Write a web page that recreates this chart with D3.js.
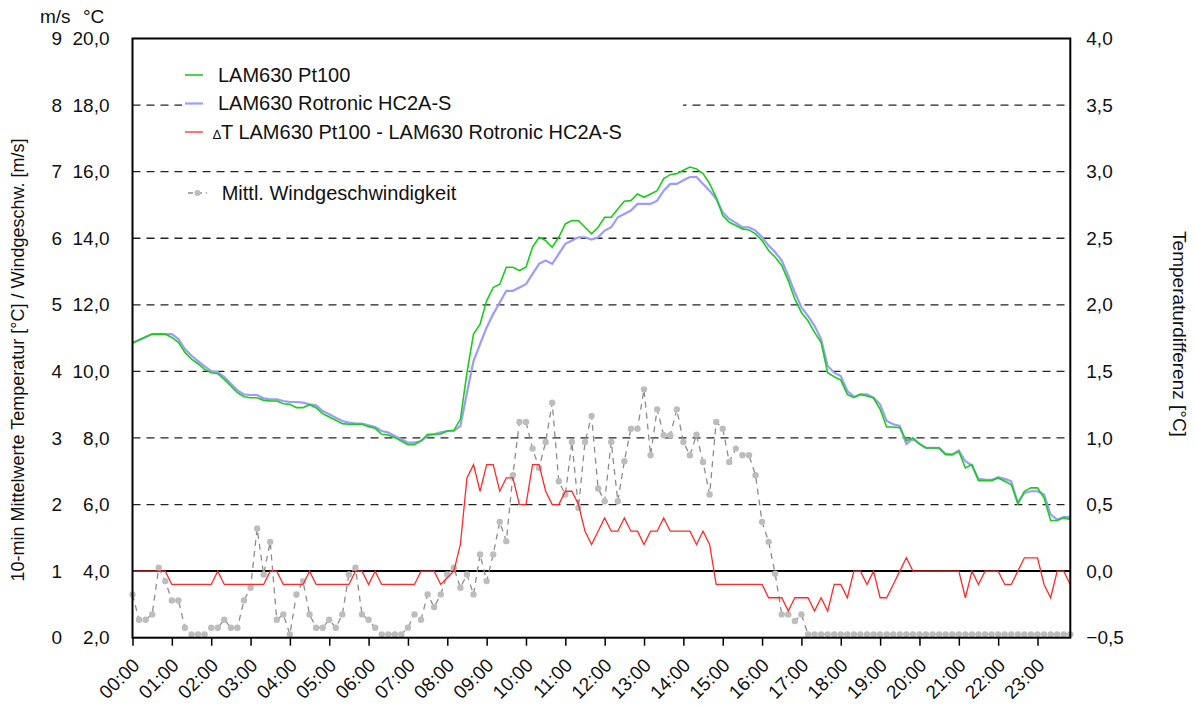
<!DOCTYPE html>
<html><head><meta charset="utf-8">
<script src="https://cdn.jsdelivr.net/npm/d3@7"></script>
<style>
body{margin:0;background:#fff}
text{font-family:"Liberation Sans",Arial,Helvetica,sans-serif;fill:#111}
</style>
</head><body>
<svg id="chart" width="1196" height="706"></svg>
<script>
// ---- data (10-min means, 00:00 .. 23:50) ----
const tempPt100 = [
10.85,10.94,11.03,11.12,11.12,11.12,11.02,10.87,10.57,10.37,10.23,10.06,9.96,9.93,9.76,9.56,9.36,9.24,9.21,9.21,
9.13,9.11,9.11,9.03,9.01,8.91,8.91,9.00,8.91,8.73,8.63,8.53,8.43,8.41,8.41,8.41,8.34,8.29,8.11,8.09,
8.01,7.91,7.80,7.80,7.91,8.11,8.11,8.12,8.21,8.23,8.56,9.96,11.12,11.42,12.12,12.52,12.62,13.13,13.13,13.03,
13.13,13.73,14.03,13.93,13.73,14.03,14.43,14.53,14.53,14.33,14.13,14.33,14.63,14.63,14.88,15.11,15.13,15.33,15.23,15.33,
15.43,15.79,15.91,15.94,16.04,16.14,16.08,15.94,15.64,15.23,14.68,14.48,14.38,14.28,14.25,14.13,13.93,13.63,13.43,13.18,
12.72,12.17,11.77,11.52,11.17,10.87,9.96,9.84,9.74,9.31,9.21,9.31,9.26,9.20,8.86,8.33,8.33,8.31,7.92,8.00,
7.82,7.70,7.70,7.70,7.50,7.50,7.60,7.10,7.20,6.72,6.72,6.72,6.80,6.70,6.60,6.03,6.40,6.50,6.50,6.20,
5.52,5.52,5.60,5.55];
const tempRotronic = [
10.85,10.94,11.03,11.12,11.12,11.12,11.12,10.97,10.67,10.47,10.31,10.15,10.01,9.98,9.83,9.63,9.43,9.31,9.29,9.29,
9.19,9.16,9.16,9.11,9.08,9.08,9.06,9.01,8.98,8.81,8.71,8.61,8.51,8.46,8.43,8.43,8.38,8.33,8.21,8.16,
8.06,7.96,7.86,7.86,7.91,8.06,8.11,8.17,8.21,8.21,8.36,9.36,10.31,10.82,11.32,11.72,12.07,12.42,12.42,12.52,
12.62,12.93,13.23,13.33,13.23,13.53,13.83,13.93,14.03,14.03,13.96,14.03,14.23,14.33,14.63,14.73,14.83,15.03,15.03,15.03,
15.13,15.43,15.63,15.63,15.74,15.84,15.84,15.63,15.43,15.18,14.78,14.58,14.46,14.33,14.33,14.23,14.03,13.78,13.58,13.33,
12.87,12.37,11.92,11.67,11.37,10.97,10.16,9.96,9.86,9.41,9.24,9.31,9.31,9.21,9.01,8.51,8.41,8.36,7.82,7.97,
7.82,7.70,7.70,7.70,7.52,7.50,7.62,7.30,7.17,6.77,6.75,6.74,6.82,6.77,6.70,6.05,6.35,6.40,6.40,6.30,
5.70,5.55,5.62,5.62];
const deltaT = [
0,0,0,0,0,0,-0.1,-0.1,-0.1,-0.1,-0.1,-0.1,-0.1,0,-0.1,-0.1,-0.1,-0.1,-0.1,-0.1,
-0.1,0,0,-0.1,-0.1,-0.1,-0.1,0,-0.1,-0.1,-0.1,-0.1,-0.1,-0.1,0,0,-0.1,0,-0.1,-0.1,
-0.1,-0.1,-0.1,-0.1,0,0,0,-0.1,-0.05,0,0.2,0.7,0.8,0.6,0.8,0.8,0.6,0.7,0.7,0.5,
0.5,0.8,0.8,0.6,0.5,0.5,0.6,0.6,0.5,0.3,0.2,0.3,0.4,0.3,0.3,0.4,0.3,0.3,0.2,0.3,
0.3,0.4,0.3,0.3,0.3,0.3,0.2,0.3,0.2,-0.1,-0.1,-0.1,-0.1,-0.1,-0.1,-0.1,-0.1,-0.2,-0.2,-0.2,
-0.3,-0.2,-0.2,-0.2,-0.3,-0.2,-0.3,-0.1,-0.1,-0.2,0,0,-0.1,0,-0.2,-0.2,-0.1,0,0.1,0,
0,0,0,0,0,0,0,-0.2,0,-0.1,0,0,0,-0.1,-0.1,0,0.1,0.1,0.1,-0.1,
-0.2,0,0,-0.1];
const windSpeed = [
0.65,0.27,0.27,0.35,1.05,0.85,0.56,0.56,0.15,0.05,0.05,0.05,0.15,0.15,0.27,0.15,0.15,0.56,0.75,1.64,
0.95,1.44,0.27,0.35,0.05,0.65,0.85,0.35,0.15,0.15,0.27,0.15,0.35,0.95,1.05,0.35,0.27,0.15,0.05,0.05,
0.05,0.05,0.15,0.35,0.27,0.65,0.46,0.65,0.95,1.05,0.75,0.95,0.65,1.25,0.85,1.25,1.74,1.45,2.44,3.24,
3.24,2.84,2.55,2.94,3.53,2.35,2.15,2.94,1.95,2.94,3.33,2.24,2.05,2.94,2.05,2.65,3.14,3.14,3.73,2.74,
3.43,3.04,3.04,3.43,2.94,2.74,3.05,2.64,2.15,3.24,3.14,2.64,2.84,2.74,2.74,2.44,1.74,1.44,0.96,0.35,
0.35,0.25,0.35,0.05,0.05,0.05,0.05,0.05,0.05,0.05,0.05,0.05,0.05,0.05,0.05,0.05,0.05,0.05,0.05,0.05,
0.05,0.05,0.05,0.05,0.05,0.05,0.05,0.05,0.05,0.05,0.05,0.05,0.05,0.05,0.05,0.05,0.05,0.05,0.05,0.05,
0.05,0.05,0.05,0.05];
const hourLabels = ["00:00","01:00","02:00","03:00","04:00","05:00","06:00","07:00","08:00","09:00","10:00","11:00",
"12:00","13:00","14:00","15:00","16:00","17:00","18:00","19:00","20:00","21:00","22:00","23:00"];
const tempTicks = [2,4,6,8,10,12,14,16,18,20];
const windTicks = [0,1,2,3,4,5,6,7,8,9];
const deltaTicks = [-0.5,0,0.5,1,1.5,2,2.5,3,3.5,4];
const gridTemps = [6,8,10,12,14,16,18];
const intervalMin = 10;
const legendItems = ["LAM630 Pt100","LAM630 Rotronic HC2A-S","LAM630 Pt100 - LAM630 Rotronic HC2A-S","Mittl. Windgeschwindigkeit"];

// ---- layout ----
const L = 132.5, R = 1070.3, T = 38.5, B = 637.7;
const FS = 19, LFS = 20;
const svg = d3.select("#chart");
const mins = tempPt100.map((_, i) => i * intervalMin);
const x = d3.scaleLinear().domain([0, (tempPt100.length - 1) * intervalMin]).range([L, R]);
const yT = d3.scaleLinear().domain([2, 20]).range([B, T]);
const yW = d3.scaleLinear().domain([0, 9]).range([B, T]);
const yD = d3.scaleLinear().domain([-0.5, 4]).range([B, T]);
const comma = d => d3.format(".1f")(d).replace(".", ",");

// grid
svg.append("g").selectAll("line").data(gridTemps).join("line")
  .attr("x1", L).attr("x2", R).attr("y1", d => yT(d)).attr("y2", d => yT(d))
  .attr("stroke", "#222").attr("stroke-width", 1.3).attr("stroke-dasharray", "8,6");
svg.append("line").attr("x1", L).attr("x2", R).attr("y1", yD(0)).attr("y2", yD(0))
  .attr("stroke", "#000").attr("stroke-width", 2);

// legend background
svg.append("rect").attr("x", 182).attr("y", 56).attr("width", 501).attr("height", 94).attr("fill", "#fff");

// wind
const windLine = d3.line().x((d, i) => x(mins[i])).y(d => yW(d));
svg.append("path").datum(windSpeed).attr("d", windLine).attr("fill", "none")
  .attr("stroke", "#8c8c8c").attr("stroke-width", 1.3).attr("stroke-dasharray", "6,5");
svg.append("g").selectAll("circle").data(windSpeed).join("circle")
  .attr("cx", (d, i) => x(mins[i])).attr("cy", d => yW(d)).attr("r", 3.2).attr("fill", "#bdbdbd");

// delta T
svg.append("path").datum(deltaT)
  .attr("d", d3.line().x((d, i) => x(mins[i])).y(d => yD(d)))
  .attr("fill", "none").attr("stroke", "#ff2a2a").attr("stroke-width", 1.3);

// temperatures
svg.append("path").datum(tempRotronic)
  .attr("d", d3.line().x((d, i) => x(mins[i])).y(d => yT(d)))
  .attr("fill", "none").attr("stroke", "#9c9cff").attr("stroke-width", 2.2);
svg.append("path").datum(tempPt100)
  .attr("d", d3.line().x((d, i) => x(mins[i])).y(d => yT(d)))
  .attr("fill", "none").attr("stroke", "#1ccc1c").attr("stroke-width", 1.6);

// frame
svg.append("rect").attr("x", L).attr("y", T).attr("width", R - L).attr("height", B - T)
  .attr("fill", "none").attr("stroke", "#000").attr("stroke-width", 2);

// axes
const axT = svg.append("g").attr("transform", `translate(${L},0)`)
  .call(d3.axisLeft(yT).tickValues(tempTicks).tickSize(0).tickPadding(23).tickFormat(comma));
const axW = svg.append("g").attr("transform", `translate(${L},0)`)
  .call(d3.axisLeft(yW).tickValues(windTicks).tickSize(0).tickPadding(70.5).tickFormat(d3.format("d")));
const axD = svg.append("g").attr("transform", `translate(${R},0)`)
  .call(d3.axisRight(yD).tickValues(deltaTicks).tickSize(0).tickPadding(16).tickFormat(comma));
const axX = svg.append("g").attr("transform", `translate(0,${B})`)
  .call(d3.axisBottom(x).tickValues(hourLabels.map((_, i) => i * 60)).tickSize(8)
    .tickFormat((d, i) => hourLabels[i]));
[axT, axW, axD, axX].forEach(a => {
  a.select(".domain").remove();
  a.selectAll("text").attr("font-size", FS).attr("font-family", null).style("fill", "#111");
});
axX.selectAll(".tick line").attr("stroke", "#000").attr("stroke-width", 1.5);
axX.selectAll(".tick text").attr("text-anchor", "end").attr("x", 0).attr("y", 0).attr("dy", "0.35em")
  .attr("transform", "translate(3,24) rotate(-45)");

// unit header
svg.append("text").attr("x", 40).attr("y", 23).attr("font-size", FS).text("m/s");
svg.append("text").attr("x", 83).attr("y", 23).attr("font-size", FS).text("°C");

// axis titles
svg.append("text").attr("transform", "translate(24,360) rotate(-90)").attr("text-anchor", "middle")
  .attr("font-size", 18).text("10-min Mittelwerte Temperatur [°C] / Windgeschw. [m/s]");
svg.append("text").attr("transform", "translate(1173,334) rotate(90)").attr("text-anchor", "middle")
  .attr("font-size", FS).text("Temperaturdifferenz [°C]");

// legend
const lg = svg.append("g");
lg.append("line").attr("x1", 185).attr("x2", 203).attr("y1", 75).attr("y2", 75).attr("stroke", "#1ccc1c").attr("stroke-width", 1.6);
lg.append("text").attr("x", 218).attr("y", 81.7).attr("font-size", LFS).text(legendItems[0]);
lg.append("line").attr("x1", 185).attr("x2", 203).attr("y1", 103.5).attr("y2", 103.5).attr("stroke", "#9c9cff").attr("stroke-width", 2.2);
lg.append("text").attr("x", 218).attr("y", 110).attr("font-size", LFS).text(legendItems[1]);
lg.append("line").attr("x1", 185).attr("x2", 203).attr("y1", 132).attr("y2", 132).attr("stroke", "#ff2a2a").attr("stroke-width", 1.3);
const t3 = lg.append("text").attr("x", 213).attr("y", 139).attr("font-size", LFS);
t3.append("tspan").attr("font-size", 13).text("\u2206");
t3.append("tspan").text("T " + legendItems[2]);
lg.append("line").attr("x1", 188).attr("x2", 207).attr("y1", 193).attr("y2", 193).attr("stroke", "#8c8c8c").attr("stroke-width", 1.3).attr("stroke-dasharray", "5,4");
lg.append("circle").attr("cx", 197.5).attr("cy", 193).attr("r", 3).attr("fill", "#bdbdbd");
lg.append("text").attr("x", 221.7).attr("y", 200).attr("font-size", LFS).text(legendItems[3]);
</script>
</body></html>
